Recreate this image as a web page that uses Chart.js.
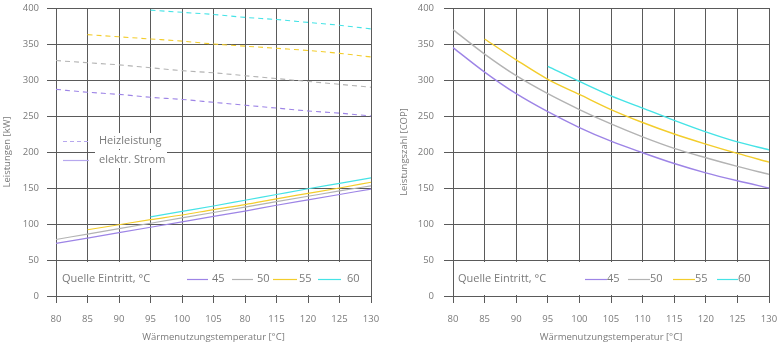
<!DOCTYPE html>
<html>
<head>
<meta charset="utf-8">
<script src="https://cdn.jsdelivr.net/npm/chart.js@4.4.1/dist/chart.umd.min.js"></script>
<style>
  html, body { margin: 0; padding: 0; background: #fff; }
  #wrap { position: relative; width: 779px; height: 343px; overflow: hidden; }
  canvas { position: absolute; top: 0; }
</style>
</head>
<body>
<div id="wrap">
  <canvas id="left" width="390" height="343" style="left:0"></canvas>
  <canvas id="right" width="389" height="343" style="left:390px"></canvas>
</div>
<script>
// ---- data ----
const xLabelsLeft  = ['80','85','90','95','100','105','80','115','120','125','130'];
const xLabelsRight = ['80','85','90','95','100','105','110','115','120','125','130'];
const sourceTemps  = ['45','50','55','60'];

// Heizleistung [kW] (dashed)
const heiz45 = [287, 283, 280, 276, 273, 269, 265, 261, 257, 254, 250];
const heiz50 = [327, 324, 321, 317, 313, 310, 306, 302, 298, 294, 290];
const heiz55 = [null, 363, 360, 357, 354, 350, 347, 344, 341, 337, 332];
const heiz60 = [null, null, null, 397, 394, 391, 387, 384, 380, 376, 371];

// elektr. Strom [kW] (solid)
const strom45 = [73, 80.5, 88, 95.5, 103, 110.5, 118, 126, 133.5, 141, 148.5];
const strom50 = [78.5, 86, 93.5, 101, 108.5, 116, 123.5, 131, 138.5, 146, 153];
const strom55 = [null, 92, 99, 106, 112.5, 120, 127, 135, 142.5, 150, 158];
const strom60 = [null, null, null, 110, 117.5, 125, 133, 141, 149, 156.5, 164];

// Leistungszahl (COP x 100)
const cop45 = [345, 311, 281, 256, 234, 215, 199, 184, 171, 160, 150];
const cop50 = [370, 336, 306, 281, 259, 239, 221, 205, 192, 180, 169];
const cop55 = [null, 357, 328, 301, 280, 259, 241, 225, 211, 198, 186];
const cop60 = [null, null, null, 319, 298, 278, 261, 244, 228, 214, 203];

const seriesColors = ['#9d84e6', '#b3b3b3', '#f3cd2c', '#45e3e6'];

// ---- styling ----
Chart.defaults.font.family = "'Open Sans', 'DejaVu Sans', sans-serif";
const GRID = '#5a5a5a';
const TXT = '#7a7a7a';

function lineDs(data, color, dashed, width) {
  return {
    data: data,
    borderColor: color,
    backgroundColor: color,
    borderWidth: width,
    borderDash: dashed ? [5, 4] : [],
    pointRadius: 0,
    fill: false,
    spanGaps: false,
    cubicInterpolationMode: 'monotone'
  };
}

function makeScales(xLabels, yTitle, yWidth, yPad, yTitlePad) {
  return {
    x: {
      type: 'category',
      labels: xLabels,
      offset: false,
      grid: { color: GRID, lineWidth: 1, tickLength: 7, drawTicks: true },
      border: { display: true, color: GRID, width: 1 },
      ticks: { color: TXT, font: { size: 9.5 }, padding: 11, maxRotation: 0, autoSkip: false },
      title: { display: true, text: 'Wärmenutzungstemperatur [°C]', color: TXT,
               font: { size: 9.5 }, padding: { top: 0, bottom: 0 } },
      afterFit: s => { s.height = 47; s.paddingLeft = 0; s.paddingRight = 0; }
    },
    y: {
      min: 0, max: 400,
      grid: { color: GRID, lineWidth: 1, tickLength: 9, drawTicks: true },
      border: { display: true, color: GRID, width: 1 },
      ticks: { stepSize: 50, color: TXT, font: { size: 9.5 }, padding: yPad },
      title: { display: true, text: yTitle, color: TXT, font: { size: 9.5 },
               padding: { top: yTitlePad, bottom: 0 } },
      afterFit: s => { s.width = yWidth; s.paddingTop = 0; s.paddingBottom = 0; }
    }
  };
}

function bottomLegend(lines, texts, titleX) {
  return {
    id: 'bottomLegend',
    afterDatasetsDraw(chart) {
      const ctx = chart.ctx, a = chart.chartArea;
      ctx.save();
      ctx.fillStyle = '#ffffff';
      ctx.fillRect(a.left + 1, 262, a.right - a.left - 2, 33);
      ctx.font = "11px 'Open Sans'";
      ctx.fillStyle = TXT;
      ctx.textBaseline = 'middle';
      ctx.textAlign = 'left';
      ctx.fillText('Quelle Eintritt, °C', titleX, 279);
      for (let i = 0; i < sourceTemps.length; i++) {
        ctx.strokeStyle = seriesColors[i];
        ctx.lineWidth = 1.2;
        ctx.beginPath();
        ctx.moveTo(lines[i][0], 279.5);
        ctx.lineTo(lines[i][1], 279.5);
        ctx.stroke();
        ctx.fillText(sourceTemps[i], texts[i], 279);
      }
      ctx.restore();
    }
  };
}

const topLegend = {
  id: 'topLegend',
  afterDatasetsDraw(chart) {
    const ctx = chart.ctx;
    ctx.save();
    ctx.fillStyle = '#ffffff';
    ctx.fillRect(95, 133, 72, 16);
    ctx.fillRect(95, 150, 72, 18);
    ctx.strokeStyle = '#b7a8ee';
    ctx.lineWidth = 1.2;
    ctx.setLineDash([4, 3]);
    ctx.beginPath(); ctx.moveTo(63, 141.5); ctx.lineTo(89, 141.5); ctx.stroke();
    ctx.setLineDash([]);
    ctx.beginPath(); ctx.moveTo(63, 160.5); ctx.lineTo(89, 160.5); ctx.stroke();
    ctx.font = "11px 'Open Sans'";
    ctx.fillStyle = TXT;
    ctx.textBaseline = 'middle';
    ctx.fillText('Heizleistung', 99, 141);
    ctx.fillText('elektr. Strom', 99, 160);
    ctx.restore();
  }
};

new Chart(document.getElementById('left'), {
  type: 'line',
  data: {
    datasets: [
      lineDs(heiz45, seriesColors[0], true, 1.1),
      lineDs(heiz50, seriesColors[1], true, 1.1),
      lineDs(heiz55, seriesColors[2], true, 1.1),
      lineDs(heiz60, seriesColors[3], true, 1.1),
      lineDs(strom45, seriesColors[0], false, 1.2),
      lineDs(strom50, seriesColors[1], false, 1.2),
      lineDs(strom55, seriesColors[2], false, 1.2),
      lineDs(strom60, seriesColors[3], false, 1.2)
    ]
  },
  options: {
    responsive: false, animation: false, devicePixelRatio: 1,
    layout: { padding: { top: 8, right: 19, left: 0, bottom: 0 } },
    plugins: { legend: { display: false }, tooltip: { enabled: false } },
    scales: makeScales(xLabelsLeft, 'Leistungen [kW]', 56, 8, 2)
  },
  plugins: [
    bottomLegend([[187, 208], [232, 253], [273, 297], [318, 341]], [212, 257, 299, 347], 62),
    topLegend
  ]
});

new Chart(document.getElementById('right'), {
  type: 'line',
  data: {
    datasets: [
      lineDs(cop45, seriesColors[0], false, 1.4),
      lineDs(cop50, seriesColors[1], false, 1.4),
      lineDs(cop55, seriesColors[2], false, 1.4),
      lineDs(cop60, seriesColors[3], false, 1.4)
    ]
  },
  options: {
    responsive: false, animation: false, devicePixelRatio: 1,
    layout: { padding: { top: 8, right: 10, left: 0, bottom: 0 } },
    plugins: { legend: { display: false }, tooltip: { enabled: false } },
    scales: makeScales(xLabelsRight, 'Leistungszahl [COP]', 63, 10, 9)
  },
  plugins: [
    bottomLegend([[195, 217], [238, 260], [283, 305], [327, 348]], [217, 260, 305, 348], 68)
  ]
});
</script>
</body>
</html>
